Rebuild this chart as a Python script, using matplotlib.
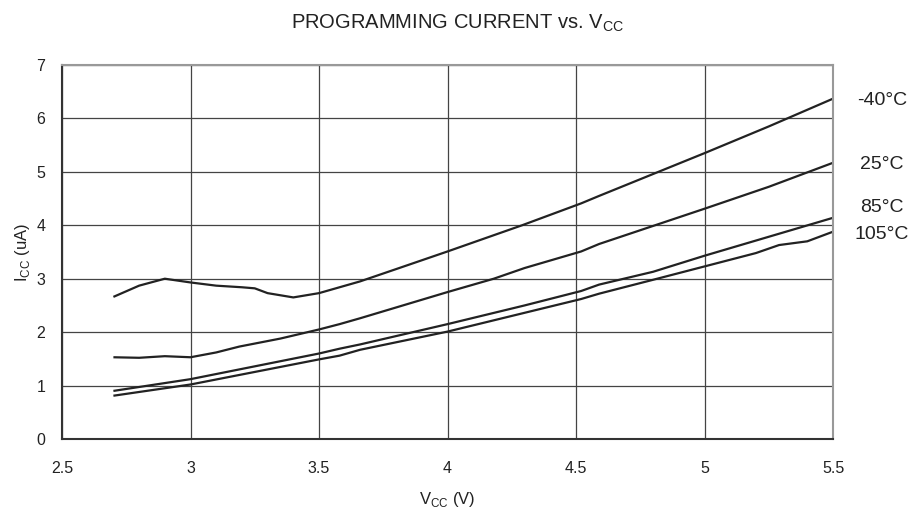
import matplotlib
matplotlib.use("Agg")
import matplotlib.pyplot as plt

plt.rcParams['font.family'] = ['Liberation Sans', 'DejaVu Sans']

x_m40 = [2.70, 2.80, 2.90, 3.00, 3.10, 3.20, 3.25, 3.30, 3.40, 3.50, 3.58, 3.66, 3.80, 4.00, 4.29, 4.52, 4.59, 5.00, 5.25, 5.50]
y_m40 = [2.66, 2.87, 3.00, 2.93, 2.87, 2.84, 2.82, 2.73, 2.65, 2.73, 2.84, 2.95, 3.18, 3.51, 4.00, 4.41, 4.55, 5.35, 5.85, 6.37]

x_25 = [2.70, 2.80, 2.90, 3.00, 3.10, 3.19, 3.35, 3.50, 3.58, 3.66, 4.00, 4.18, 4.30, 4.52, 4.59, 5.00, 5.25, 5.50]
y_25 = [1.53, 1.52, 1.55, 1.53, 1.62, 1.73, 1.88, 2.05, 2.15, 2.26, 2.75, 3.00, 3.20, 3.51, 3.65, 4.31, 4.72, 5.17]

x_85 = [2.70, 3.00, 3.50, 3.58, 3.66, 4.00, 4.30, 4.52, 4.59, 4.80, 5.00, 5.50]
y_85 = [0.90, 1.12, 1.60, 1.69, 1.77, 2.15, 2.50, 2.77, 2.89, 3.13, 3.43, 4.14]

x_105 = [2.70, 3.00, 3.50, 3.58, 3.66, 4.00, 4.52, 4.59, 4.80, 5.00, 5.20, 5.29, 5.40, 5.50]
y_105 = [0.81, 1.02, 1.49, 1.56, 1.67, 2.01, 2.62, 2.72, 2.98, 3.23, 3.48, 3.63, 3.70, 3.88]

series = [(x_m40, y_m40, "-40°C", 6.33),
          (x_25, y_25, "25°C", 5.13),
          (x_85, y_85, "85°C", 4.34),
          (x_105, y_105, "105°C", 3.82)]

xticks = [2.5, 3, 3.5, 4, 4.5, 5, 5.5]
xticklabels = ["2.5", "3", "3.5", "4", "4.5", "5", "5.5"]
yticks = [0, 1, 2, 3, 4, 5, 6, 7]

fig = plt.figure(figsize=(9.16, 5.12), dpi=100)
ax = fig.add_axes([62/916, 1-439/512, (833-62)/916, (439-65)/512])

for xs, ys, lab, ly in series:
    ax.plot(xs, ys, color="#222222", lw=1.6, solid_capstyle='butt')
    ax.text(882/916, 1-(439-ly*53.43)/512, lab, transform=fig.transFigure, fontsize=14,
            ha='center', va='center', color="#222222")

ax.set_xlim(2.5, 5.5)
ax.set_ylim(0, 7)
ax.set_xticks(xticks)
ax.set_xticklabels(xticklabels)
ax.set_yticks(yticks)
ax.grid(True, color="#444444", lw=0.9)
ax.tick_params(length=0, labelsize=11.5, colors="#222222")
ax.tick_params(axis='x', pad=16)
ax.tick_params(axis='y', pad=12)
for s in ['top', 'right']:
    ax.spines[s].set_color("#999999")
    ax.spines[s].set_linewidth(1.5)
for s in ['left', 'bottom']:
    ax.spines[s].set_color("#333333")
    ax.spines[s].set_linewidth(1.5)

ax.set_xlabel(r"V$_{\mathregular{CC}}$ (V)", fontsize=12, color="#222222", labelpad=10)
ax.set_ylabel(r"I$_{\mathregular{CC}}$ (uA)", fontsize=12, color="#222222", labelpad=3)
fig.text(457/916, 1-23/512, r"PROGRAMMING CURRENT vs. V$_{\mathregular{CC}}$", fontsize=14.5,
         ha='center', va='center', color="#222222")

fig.savefig("out.png", dpi=100)
